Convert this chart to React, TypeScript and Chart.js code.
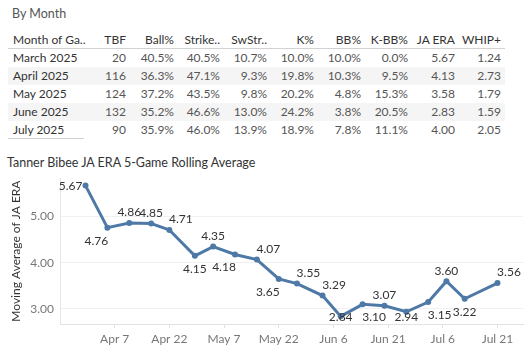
import React, { useEffect, useRef } from "react";
import { Chart, registerables } from "chart.js";
Chart.register(...registerables);

const FONT = "Lato, 'Open Sans', sans-serif";

// ---- Table data ----
const tableHeaders = ["Month of Ga..", "TBF", "Ball%", "Strike..", "SwStr..", "K%", "BB%", "K-BB%", "JA ERA", "WHIP+"];
const months = ["March 2025", "April 2025", "May 2025", "June 2025", "July 2025"];
const tbf = [20, 116, 124, 132, 90];
const ballPct = [40.5, 36.3, 37.2, 35.2, 35.9];
const strikePct = [40.5, 47.1, 43.5, 46.6, 46.0];
const swStrPct = [10.7, 9.3, 9.8, 13.0, 13.9];
const kPct = [10.0, 19.8, 20.2, 24.2, 18.9];
const bbPct = [10.0, 10.3, 4.8, 3.8, 7.8];
const kbbPct = [0.0, 9.5, 15.3, 20.5, 11.1];
const jaEra = [5.67, 4.13, 3.58, 2.83, 4.0];
const whipPlus = [1.24, 2.73, 1.79, 1.59, 2.05];

// ---- Chart data ----
const gameDates = ["Mar 30", "Apr 5", "Apr 11", "Apr 17", "Apr 22", "Apr 29", "May 4", "May 10", "May 16", "May 22", "May 27", "Jun 3", "Jun 8", "Jun 14", "Jun 20", "Jun 26", "Jul 2", "Jul 7", "Jul 12", "Jul 21"];
const rollingEra = [5.67, 4.76, 4.86, 4.85, 4.71, 4.15, 4.35, 4.18, 4.07, 3.65, 3.55, 3.29, 2.84, 3.10, 3.07, 2.94, 3.15, 3.60, 3.22, 3.56];
const xTickLabels = ["Apr 7", "Apr 22", "May 7", "May 22", "Jun 6", "Jun 21", "Jul 6", "Jul 21"];
const yTickValues = [3, 4, 5];
const xRange = ["Mar 23", "Jul 28"];

// label placement style (T = above, B = below, L = left, R = right-shift)
const labelPlacement = ["L", "BL", "T", "T", "TR", "B", "T", "BL", "TR", "BL", "TR", "TR", "B", "BR", "T", "B", "BR", "T", "B", "TR"];

const monthStart: Record<string, number> = { Jan: 0, Feb: 31, Mar: 59, Apr: 90, May: 120, Jun: 151, Jul: 181, Aug: 212 };
const monthNames = Object.keys(monthStart);
function dayOf(s: string) {
  const [m, d] = s.split(" ");
  return monthStart[m] + parseInt(d, 10);
}
function dayLabel(n: number) {
  let name = "Jan";
  for (const m of monthNames) if (monthStart[m] < n) name = m;
  return `${name} ${n - monthStart[name]}`;
}

const pct = (v: number) => v.toFixed(1) + "%";
const columns: string[][] = [
  months,
  tbf.map((v) => String(v)),
  ballPct.map(pct),
  strikePct.map(pct),
  swStrPct.map(pct),
  kPct.map(pct),
  bbPct.map(pct),
  kbbPct.map(pct),
  jaEra.map((v) => v.toFixed(2)),
  whipPlus.map((v) => v.toFixed(2)),
];
const colRight = [0, 126, 174, 220, 267, 314, 361, 408, 455, 501];

const labelPlugin = {
  id: "pointLabels",
  afterDatasetsDraw(chart: any) {
    const { ctx, chartArea } = chart;
    const meta = chart.getDatasetMeta(0);
    ctx.save();
    ctx.font = `12px ${FONT}`;
    ctx.fillStyle = "#333";
    ctx.textBaseline = "middle";
    meta.data.forEach((pt: any, i: number) => {
      const text = rollingEra[i].toFixed(2);
      const p = labelPlacement[i];
      let x = pt.x;
      let y = pt.y;
      if (p === "L") {
        ctx.textAlign = "right";
        x -= 3;
        y += 1;
      } else {
        ctx.textAlign = "center";
        if (p.length > 1 && p[1] === "R") x += 11.5;
        if (p.length > 1 && p[1] === "L") x -= 11;
        if (p[0] === "T") y -= 10.5;
        else y += 13;
        y = Math.min(y, chartArea.bottom - 7);
      }
      ctx.fillText(text, x, y);
    });
    ctx.restore();
  },
};

export default function App() {
  const canvasRef = useRef<HTMLCanvasElement>(null);

  useEffect(() => {
    const canvas = canvasRef.current!;
    const chart = new Chart(canvas, {
      type: "line",
      data: {
        datasets: [
          {
            data: gameDates.map((d, i) => ({ x: dayOf(d), y: rollingEra[i] })),
            borderColor: "#4e79a7",
            backgroundColor: "#4e79a7",
            borderWidth: 3,
            pointRadius: 3,
            pointHoverRadius: 3,
            pointBorderWidth: 0,
            tension: 0,
            clip: false as any,
          },
        ],
      },
      options: {
        animation: false,
        responsive: false,
        events: [],
        layout: { padding: { left: 0, right: 5, top: 12, bottom: 0 } },
        plugins: { legend: { display: false }, tooltip: { enabled: false } },
        scales: {
          x: {
            type: "linear",
            min: dayOf(xRange[0]),
            max: dayOf(xRange[1]),
            afterBuildTicks: (scale: any) => {
              scale.ticks = xTickLabels.map((l) => ({ value: dayOf(l) }));
            },
            afterFit: (scale: any) => {
              scale.height = 28;
            },
            ticks: {
              autoSkip: false,
              maxRotation: 0,
              padding: 4,
              color: "#777",
              font: { family: FONT, size: 12 },
              callback: (v: any) => dayLabel(Number(v)),
            },
            grid: { display: true, drawOnChartArea: false, drawTicks: true, tickLength: 4, color: "#e2e2e2" },
            border: { display: true, color: "#e2e2e2" },
          },
          y: {
            type: "linear",
            min: 2.675,
            max: 5.83,
            afterBuildTicks: (scale: any) => {
              scale.ticks = yTickValues.map((v) => ({ value: v }));
            },
            afterFit: (scale: any) => {
              scale.width = 60;
            },
            ticks: {
              padding: 6,
              color: "#777",
              font: { family: FONT, size: 12 },
              callback: (v: any) => Number(v).toFixed(2),
            },
            grid: { display: true, drawTicks: false, color: "#f0f0f0" },
            border: { display: true, color: "#e6e6e6" },
            title: {
              display: true,
              text: "Moving Average of JA ERA",
              color: "#333",
              font: { family: FONT, size: 12 },
              padding: { top: 9, bottom: 0 },
            },
          },
        },
      },
      plugins: [labelPlugin],
    });
    return () => chart.destroy();
  }, []);

  const rowTop = (i: number) => 49 + i * 18;

  return (
    <div
      style={{
        position: "fixed",
        left: 0,
        top: 0,
        width: 528,
        height: 352,
        background: "#fff",
        fontFamily: FONT,
        overflow: "hidden",
      }}
    >
      <div style={{ position: "absolute", left: 12, top: 6, fontSize: 12.5, color: "#555", lineHeight: "16px" }}>By Month</div>

      {/* row shading */}
      {months.map((_, i) =>
        i % 2 === 1 ? (
          <div key={"sh" + i} style={{ position: "absolute", left: 8, width: 497, top: rowTop(i), height: 18, background: "#f5f5f5" }} />
        ) : null
      )}
      {/* header line */}
      <div style={{ position: "absolute", left: 8, width: 497, top: 48, height: 1, background: "#d2d2d2" }} />
      {/* bottom line under first column */}
      <div style={{ position: "absolute", left: 8, width: 76, top: 138, height: 1, background: "#d2d2d2" }} />

      {tableHeaders.map((h, c) => (
        <div
          key={"h" + c}
          style={
            c === 0
              ? { position: "absolute", left: 13, top: 31, lineHeight: "18px", fontSize: 12, color: "#333", whiteSpace: "nowrap" }
              : { position: "absolute", right: 528 - colRight[c], top: 31, lineHeight: "18px", fontSize: 12, color: "#333", whiteSpace: "nowrap", textAlign: "right" }
          }
        >
          {h}
        </div>
      ))}

      {columns.map((col, c) =>
        col.map((txt, r) => (
          <div
            key={`c${c}-${r}`}
            style={
              c === 0
                ? { position: "absolute", left: 13, top: rowTop(r), lineHeight: "18px", fontSize: 12, color: "#333", whiteSpace: "nowrap" }
                : { position: "absolute", right: 528 - colRight[c], top: rowTop(r), lineHeight: "18px", fontSize: 12, color: "#555", whiteSpace: "nowrap", textAlign: "right" }
            }
          >
            {txt}
          </div>
        ))
      )}

      <div style={{ position: "absolute", left: 7, top: 155, fontSize: 12.5, color: "#333", lineHeight: "16px", whiteSpace: "nowrap" }}>
        Tanner Bibee JA ERA 5-Game Rolling Average
      </div>

      <canvas ref={canvasRef} width={528} height={187} style={{ position: "absolute", left: 0, top: 165, width: 528, height: 187 }} />
    </div>
  );
}
